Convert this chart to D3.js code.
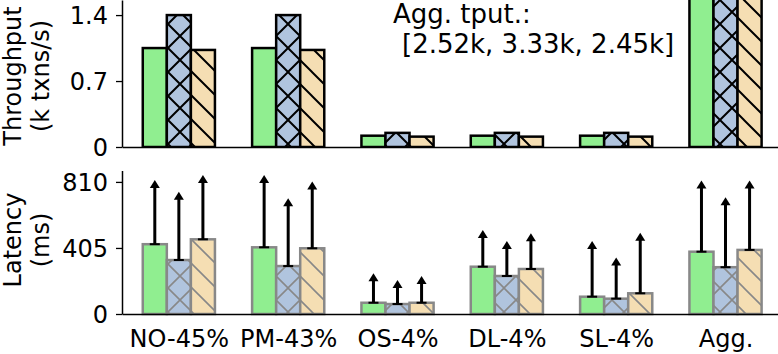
<!DOCTYPE html>
<html>
<head>
<meta charset="utf-8">
<script src="https://cdn.jsdelivr.net/npm/d3@7"></script>
<style>
  body { margin: 0; background: #fff; }
  svg { display: block; font-family: "DejaVu Sans", sans-serif; }
</style>
</head>
<body>
<svg id="chart" width="778" height="354"></svg>
<script>
// workload categories along the x axis
const categories = ["NO-45%", "PM-43%", "OS-4%", "DL-4%", "SL-4%", "Agg."];

// throughput, k txns/s (three systems)
const tputA = [1.05, 1.05, 0.12, 0.12, 0.12, 2.52];
const tputB = [1.40, 1.40, 0.15, 0.15, 0.15, 3.33];
const tputC = [1.03, 1.03, 0.11, 0.11, 0.11, 2.45];

// latency, ms: bar value and upper end of arrow
const latA = [428, 409, 69, 290, 106, 382];
const latB = [331, 294, 61, 233, 94, 287];
const latC = [458, 403, 69, 276, 127, 393];
const latUpA = [822, 853, 250, 515, 448, 818];
const latUpB = [750, 710, 209, 448, 346, 716];
const latUpC = [853, 812, 233, 495, 499, 818];

const tputTicks = [0, 0.7, 1.4];
const latTicks = [0, 405, 810];
const aggNote = ["Agg. tput.:", "[2.52k, 3.33k, 2.45k]"];

const colors = ["#90ee90", "#b0c4de", "#f5deb3"];
const hatches = ["", "x", "\\"];
const barW = 0.22;
const fontSize = 24;

const svg = d3.select("#chart");
const defs = svg.append("defs");

// hatch patterns, one per series and per edge colour
function makePattern(id, fill, hatch, stroke, sw) {
  const P = 24;
  const p = defs.append("pattern")
    .attr("id", id)
    .attr("patternUnits", "userSpaceOnUse")
    .attr("width", P).attr("height", P);
  p.append("rect").attr("width", P).attr("height", P).attr("fill", fill);
  let d = "";
  if (hatch === "\\" || hatch === "x") {
    d += `M-2,${P - 2}L2,${P + 2}M0,0L${P},${P}M${P - 2},-2L${P + 2},2`;
  }
  if (hatch === "x") {
    d += `M-2,2L2,-2M0,${P}L${P},0M${P - 2},${P + 2}L${P + 2},${P - 2}`;
  }
  if (d) p.append("path").attr("d", d).attr("stroke", stroke).attr("stroke-width", sw).attr("fill", "none");
}
colors.forEach((c, i) => {
  makePattern("top" + i, c, hatches[i], "#000", 2);
  makePattern("bot" + i, c, hatches[i], "#888", 1.6);
});

const x = d3.scaleLinear().domain([-0.52, 5.48]).range([122, 778]);
const yTop = d3.scaleLinear().domain([0, 1.56]).range([147, 0]);
const yBot = d3.scaleLinear().domain([0, 880]).range([314, 170.5]);

defs.append("clipPath").attr("id", "clipTop")
  .append("rect").attr("x", 122).attr("y", 0).attr("width", 656).attr("height", 147);

// ---- top panel: throughput ----
const gTop = svg.append("g").attr("clip-path", "url(#clipTop)");
[tputA, tputB, tputC].forEach((vals, s) => {
  gTop.selectAll(null)
    .data(vals)
    .enter()
    .append("rect")
    .attr("x", (d, i) => x(i + (s - 1.5) * barW))
    .attr("width", x(barW) - x(0))
    .attr("y", d => yTop(d))
    .attr("height", d => yTop(0) - yTop(d))
    .attr("fill", `url(#top${s})`)
    .attr("stroke", "#000")
    .attr("stroke-width", 2.5);
});

// ---- bottom panel: latency ----
const gBot = svg.append("g");
[latA, latB, latC].forEach((vals, s) => {
  gBot.selectAll(null)
    .data(vals)
    .enter()
    .append("rect")
    .attr("x", (d, i) => x(i + (s - 1.5) * barW))
    .attr("width", x(barW) - x(0))
    .attr("y", d => yBot(d))
    .attr("height", d => yBot(0) - yBot(d))
    .attr("fill", `url(#bot${s})`)
    .attr("stroke", "#888")
    .attr("stroke-width", 2.5);
});

// upward arrows from bar top to upper value
[[latA, latUpA], [latB, latUpB], [latC, latUpC]].forEach(([lo, hi], s) => {
  const pts = lo.map((v, i) => ({ cx: x(i + (s - 1) * barW), y0: yBot(v), y1: yBot(hi[i]) }));
  const g = gBot.append("g");
  g.selectAll(null).data(pts).enter().append("line")
    .attr("x1", d => d.cx).attr("x2", d => d.cx)
    .attr("y1", d => d.y0).attr("y2", d => d.y1 + 6)
    .attr("stroke", "#000").attr("stroke-width", 3);
  g.selectAll(null).data(pts).enter().append("line")
    .attr("x1", d => d.cx - 5).attr("x2", d => d.cx + 5)
    .attr("y1", d => d.y0).attr("y2", d => d.y0)
    .attr("stroke", "#000").attr("stroke-width", 2);
  g.selectAll(null).data(pts).enter().append("path")
    .attr("d", d => `M${d.cx},${d.y1}L${d.cx + 5},${d.y1 + 8}L${d.cx - 5},${d.y1 + 8}Z`)
    .attr("fill", "#000");
});

// ---- axes ----
function styleAxis(g) {
  g.selectAll(".domain").attr("stroke", "#000").attr("stroke-width", 1.5);
  g.selectAll(".tick line").attr("stroke", "#000").attr("stroke-width", 1.3);
  g.selectAll("text").attr("font-family", "DejaVu Sans").attr("font-size", fontSize).attr("fill", "#000");
}

svg.append("g").attr("transform", "translate(122,0)")
  .call(d3.axisLeft(yTop).tickValues(tputTicks).tickFormat(d => d === 0 ? "0" : d3.format(".1f")(d)).tickSize(6).tickSizeOuter(0).tickPadding(8))
  .call(styleAxis)
  .call(g => g.selectAll("text").attr("dy", "0.36em"));

svg.append("g").attr("transform", "translate(0,147)")
  .call(d3.axisBottom(x).tickValues([]).tickSizeOuter(0))
  .call(styleAxis);

svg.append("g").attr("transform", "translate(122,0)")
  .call(d3.axisLeft(yBot).tickValues(latTicks).tickSize(6).tickSizeOuter(0).tickPadding(8))
  .call(styleAxis)
  .call(g => g.selectAll("text").attr("dy", "0.36em"));

svg.append("g").attr("transform", "translate(0,314)")
  .call(d3.axisBottom(x).tickValues(d3.range(categories.length)).tickFormat(i => categories[i]).tickSize(0).tickSizeOuter(0))
  .call(styleAxis)
  .call(g => g.selectAll("text").attr("y", 33).attr("dy", 0));

// ---- axis titles ----
function yTitle(lines, cy) {
  const t = svg.append("text")
    .attr("font-size", fontSize)
    .attr("text-anchor", "middle")
    .attr("transform", `translate(0,${cy}) rotate(-90)`);
  t.selectAll("tspan").data(lines).enter().append("tspan")
    .attr("x", 0)
    .attr("y", (d, i) => 21 + i * 28)
    .text(d => d);
}
yTitle(["Throughput", "(k txns/s)"], 76);
yTitle(["Latency", "(ms)"], 240);

// ---- aggregate annotation ----
svg.append("text").attr("x", 393).attr("y", 23).attr("font-size", 26).text(aggNote[0]);
svg.append("text").attr("x", 402).attr("y", 53).attr("font-size", 26).text(aggNote[1]);
</script>
</body>
</html>
